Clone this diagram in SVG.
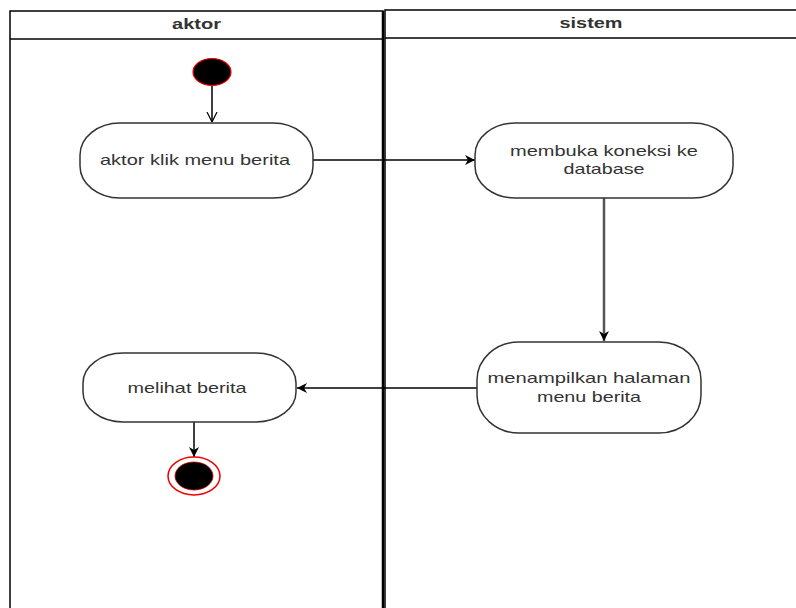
<svg xmlns="http://www.w3.org/2000/svg" width="796" height="608" viewBox="0 0 796 608">
<style>
.lane{fill:#fff;stroke:#000;stroke-width:1.5}
.act{fill:#fff;stroke:#333;stroke-width:1.5}
.lbl{font-family:"Liberation Sans",Arial,sans-serif;font-size:15px;fill:#333;text-anchor:middle}
.hdr{font-family:"Liberation Sans",Arial,sans-serif;font-size:15px;font-weight:bold;fill:#333;text-anchor:middle}
.con{fill:none;stroke:#000;stroke-width:1.5}
</style>
<defs>
<marker id="fill" viewBox="0 0 10 10" refX="10" refY="5" markerWidth="10" markerHeight="10" markerUnits="userSpaceOnUse" orient="auto">
<path d="M0,0 L10,5 L0,10 L3,5 Z" fill="#000"/>
</marker>
<marker id="open" viewBox="0 0 10 10" refX="10" refY="5" markerWidth="10" markerHeight="14" markerUnits="userSpaceOnUse" orient="auto">
<path d="M0,0 L10,5 L0,10" fill="none" stroke="#000" stroke-width="1.2"/>
</marker>
</defs>
<rect width="796" height="608" fill="#fff"/>
<g id="lane-aktor">
<rect class="lane" x="10" y="11" width="373" height="620"/>
<line x1="10" y1="39" x2="383" y2="39" stroke="#000" stroke-width="1.5"/>
<line x1="383" y1="11" x2="383" y2="608" stroke="#000" stroke-width="2.5"/>
<text class="hdr" x="196.5" y="29" textLength="49" lengthAdjust="spacingAndGlyphs">aktor</text>
</g>
<g id="lane-sistem">
<rect class="lane" x="385" y="10" width="420" height="620"/>
<line x1="385" y1="38" x2="796" y2="38" stroke="#000" stroke-width="1.5"/>
<text class="hdr" x="591" y="28" textLength="63" lengthAdjust="spacingAndGlyphs">sistem</text>
</g>
<g id="connectors">
<line class="con" x1="212" y1="86" x2="212" y2="122" marker-end="url(#open)"/>
<line class="con" x1="313" y1="160" x2="475" y2="160" marker-end="url(#fill)"/>
<line x1="604" y1="198" x2="604" y2="341" fill="none" stroke="#555" stroke-width="2.5" marker-end="url(#fill)"/>
<line class="con" x1="477" y1="388" x2="297" y2="388" marker-end="url(#fill)"/>
<line class="con" x1="194" y1="422" x2="194" y2="457" marker-end="url(#fill)"/>
</g>
<g id="start">
<ellipse cx="212" cy="72" rx="19" ry="13.5" fill="#000" stroke="#e00" stroke-width="1.2"/>
</g>
<g id="act-klik">
<rect class="act" x="80" y="123" width="233" height="75" rx="40" ry="32"/>
<text class="lbl" x="195" y="165" textLength="190" lengthAdjust="spacingAndGlyphs">aktor klik menu berita</text>
</g>
<g id="act-koneksi">
<rect class="act" x="475" y="123" width="258" height="75" rx="40" ry="32"/>
<text class="lbl" x="604" y="156" textLength="188" lengthAdjust="spacingAndGlyphs">membuka koneksi ke</text>
<text class="lbl" x="604" y="174" textLength="81" lengthAdjust="spacingAndGlyphs">database</text>
</g>
<g id="act-tampil">
<rect class="act" x="477" y="342" width="224" height="91" rx="42" ry="38"/>
<text class="lbl" x="589" y="383" textLength="203" lengthAdjust="spacingAndGlyphs">menampilkan halaman</text>
<text class="lbl" x="589" y="402" textLength="104" lengthAdjust="spacingAndGlyphs">menu berita</text>
</g>
<g id="act-melihat">
<rect class="act" x="83" y="353" width="213" height="69" rx="40" ry="30"/>
<text class="lbl" x="187" y="393" textLength="119" lengthAdjust="spacingAndGlyphs">melihat berita</text>
</g>
<g id="end">
<ellipse cx="194" cy="476" rx="26" ry="19" fill="#fff" stroke="#e00" stroke-width="1.5"/>
<ellipse cx="194" cy="476" rx="19" ry="14" fill="#000" stroke="#c00" stroke-width="0.8"/>
</g>
</svg>
